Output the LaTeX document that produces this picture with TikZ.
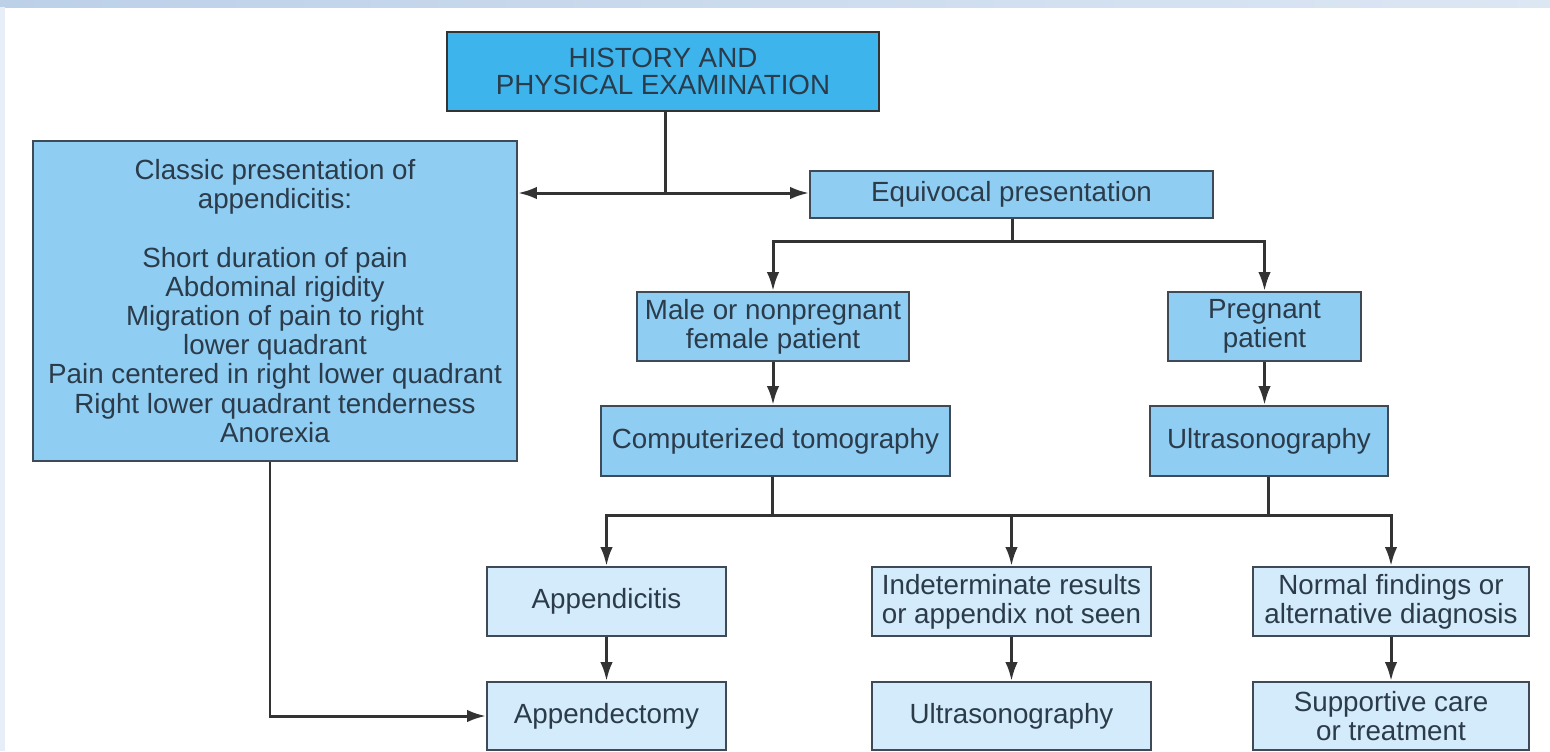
\documentclass[tikz,border=0pt]{standalone}
\usepackage{fontspec}
\setmainfont{Liberation Sans}
\usepackage{tikz}
\usepackage{xcolor}
\usetikzlibrary{arrows.meta,positioning}

\definecolor{txtc}{HTML}{2B3B4A}
\definecolor{edgec}{HTML}{3E4A55}
\definecolor{topfill}{HTML}{3DB4EC}
\definecolor{midfill}{HTML}{8FCDF2}
\definecolor{lowfill}{HTML}{D3EBFA}
\definecolor{slideL}{HTML}{BCD0E8}
\definecolor{slideR}{HTML}{DCE7F4}

\begin{document}
\begin{tikzpicture}[
  x=0.02cm,y=-0.02cm,
  box/.style={draw=edgec,line width=1.1pt,align=center,inner sep=0pt,text=txtc,
    font=\fontsize{15.8}{16.6}\selectfont},
  top/.style={box,fill=topfill,draw=black!80,line width=1.4pt},
  mid/.style={box,fill=midfill},
  low/.style={box,fill=lowfill},
  ln/.style={line width=1.7pt,draw=black!80},
  arr/.style={ln,-{Latex[length=3.8mm,width=2.5mm]}}
]
\useasboundingbox (0,0) rectangle (1550,751);
% slide background
\shade[left color=slideL,right color=slideR] (0,0) rectangle (1550,7);
\fill[slideR!70!white] (0,7) rectangle (5,751);

\node[top,minimum width=8.64cm,minimum height=1.58cm] (hist) at (663,71.5)
  {HISTORY AND\\[-1.5pt]PHYSICAL EXAMINATION};
\node[mid,minimum width=9.68cm,minimum height=6.4cm] (classic) at (275,301)
  {Classic presentation of\\appendicitis:\\[16.6pt]Short duration of pain\\Abdominal rigidity\\
   Migration of pain to right\\lower quadrant\\Pain centered in right lower quadrant\\
   Right lower quadrant tenderness\\Anorexia};
\node[mid,minimum width=8.06cm,minimum height=0.94cm] (equiv) at (1011.5,194.5) {Equivocal presentation};
\node[mid,minimum width=5.44cm,minimum height=1.38cm] (male) at (773,326.5) {Male or nonpregnant\\female patient};
\node[mid,minimum width=3.86cm,minimum height=1.38cm] (preg) at (1264.5,326.5) {Pregnant\\patient};
\node[mid,minimum width=6.98cm,minimum height=1.4cm] (ct) at (775.5,441) {Computerized tomography};
\node[mid,minimum width=4.76cm,minimum height=1.4cm] (usone) at (1269,441) {Ultrasonography};
\node[low,minimum width=4.78cm,minimum height=1.38cm] (appx) at (606.5,601.5) {Appendicitis};
\node[low,minimum width=5.58cm,minimum height=1.38cm] (indet) at (1011.5,601.5) {Indeterminate results\\or appendix not seen};
\node[low,minimum width=5.52cm,minimum height=1.38cm] (normal) at (1391,601.5) {Normal findings or\\alternative diagnosis};
\node[low,minimum width=4.78cm,minimum height=1.36cm] (appy) at (606.5,716) {Appendectomy};
\node[low,minimum width=5.58cm,minimum height=1.36cm] (ustwo) at (1011.5,716) {Ultrasonography};
\node[low,minimum width=5.52cm,minimum height=1.36cm] (supp) at (1391,716) {Supportive care\\or treatment};

% first split
\coordinate (hsplit) at (665,193);
\draw[ln] (hsplit |- hist.south) -- (hsplit);
\draw[arr] (hsplit) -- (classic.east |- hsplit);
\draw[arr] (hsplit) -- (equiv.west |- hsplit);
% patient split
\coordinate (esplit) at (1012,241);
\draw[ln] (esplit |- equiv.south) -- (esplit);
\draw[arr] (esplit) -| (male.north);
\draw[arr] (esplit) -| (preg.north);
\draw[arr] (male.south) -- (male.south |- ct.north);
\draw[arr] (preg.south) -- (preg.south |- usone.north);
% imaging results
\coordinate (cbus) at (772,515);
\coordinate (ubus) at (1268,515);
\draw[ln] (cbus |- ct.south) -- (cbus);
\draw[ln] (ubus |- usone.south) -- (ubus);
\draw[ln] (cbus) -- (ubus);
\draw[arr] (cbus) -| (appx.north);
\draw[arr] (ubus) -| (normal.north);
\draw[arr] (indet.north |- cbus) -- (indet.north);
\draw[arr] (appx) -- (appy);
\draw[arr] (indet) -- (ustwo);
\draw[arr] (normal) -- (supp);
\draw[arr] (classic.south -| 270,0) |- (appy.west);
\end{tikzpicture}
\end{document}
